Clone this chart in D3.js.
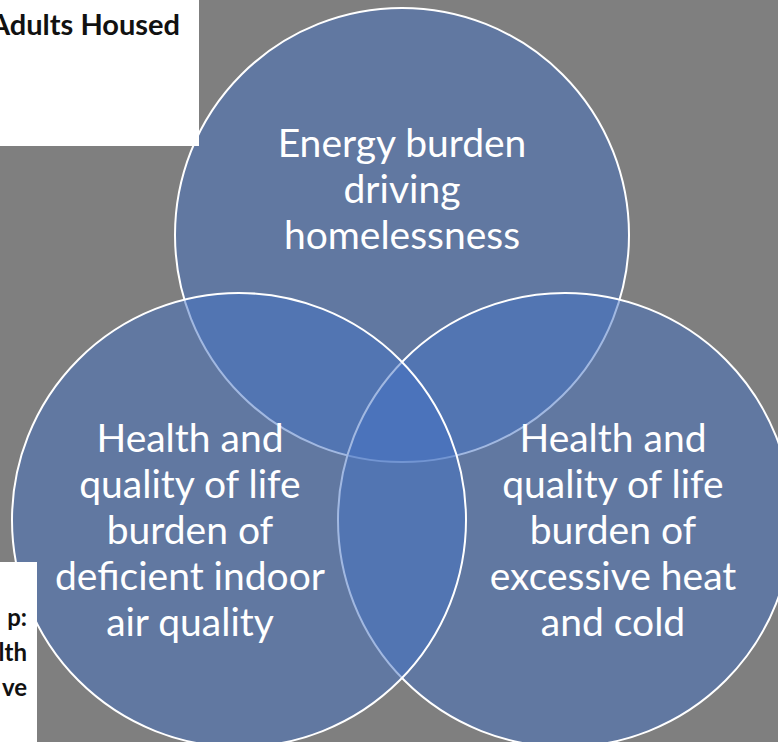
<!DOCTYPE html>
<html>
<head>
<meta charset="utf-8">
<script src="https://cdn.jsdelivr.net/npm/d3@7"></script>
<style>
  html, body { margin: 0; padding: 0; background: #7f7f7f; }
  #chart svg { display: block; }
</style>
</head>
<body>
<div id="chart"></div>
<script>
// sets drawn in this order (later ones sit on top)
var setNames = ['energy', 'heat', 'air'];
var setLabels = [
    ['Energy burden', 'driving', 'homelessness'],
    ['Health and', 'quality of life', 'burden of', 'excessive heat', 'and cold'],
    ['Health and', 'quality of life', 'burden of', 'deficient indoor', 'air quality']
];
var sideNoteTop = ['Adults Housed'];
var sideNoteBottom = ['p:', 'lth', 've'];

function VennApp() {

    this.init = function() {
        this._config = {
            width: 778,
            height: 742,
            radius: 227,
            fill: '#4472c4',
            fillOpacity: 0.5,
            lineHeight: 46
        };
        // circle centres in chart units
        this._centers = {
            energy: [402, 235],
            heat: [565, 520],
            air: [239, 520]
        };
        this._labelPos = {
            energy: [402, 157],
            heat: [613, 452],
            air: [190, 452]
        };
        this._initElements();
        this._drawCircles();
        this._drawNotes();
    };

    this._initElements = function() {
        this._rootNode = d3.select('#chart')
            .append('svg')
            .attr('width', this._config.width)
            .attr('height', this._config.height);

        this._rootNode.append('rect')
            .attr('width', this._config.width)
            .attr('height', this._config.height)
            .attr('fill', '#7f7f7f');

        this._x = d3.scaleLinear().domain([0, this._config.width]).range([0, this._config.width]);
        this._y = d3.scaleLinear().domain([0, this._config.height]).range([0, this._config.height]);
    };

    this._drawNotes = function() {
        var svg = this._rootNode;
        svg.append('rect').attr('x', 0).attr('y', 0).attr('width', 199).attr('height', 146).attr('fill', '#fff');
        svg.append('rect').attr('x', 0).attr('y', 562).attr('width', 37).attr('height', 180).attr('fill', '#fff');

        svg.selectAll('text.noteTop').data(sideNoteTop).enter().append('text')
            .attr('class', 'noteTop')
            .attr('x', 180).attr('y', 35)
            .attr('text-anchor', 'end')
            .attr('font-family', 'Lato, sans-serif')
            .attr('font-weight', 'bold')
            .attr('font-size', 29)
            .attr('fill', '#111')
            .text(function(d) { return d; });

        var bottomY = [626, 661, 696];
        svg.selectAll('text.noteBottom').data(sideNoteBottom).enter().append('text')
            .attr('class', 'noteBottom')
            .attr('x', 27)
            .attr('y', function(d, i) { return bottomY[i]; })
            .attr('text-anchor', 'end')
            .attr('font-family', 'Lato, sans-serif')
            .attr('font-weight', 'bold')
            .attr('font-size', 24)
            .attr('fill', '#111')
            .text(function(d) { return d; });
    };

    this._drawCircles = function() {
        var cfg = this._config, x = this._x, y = this._y, centers = this._centers;
        var data = setNames.map(function(name, i) {
            return { name: name, lines: setLabels[i] };
        });

        this._rootNode.selectAll('circle.set').data(data).enter().append('circle')
            .attr('class', 'set')
            .attr('cx', function(d) { return x(centers[d.name][0]); })
            .attr('cy', function(d) { return y(centers[d.name][1]); })
            .attr('r', cfg.radius)
            .attr('fill', cfg.fill)
            .attr('fill-opacity', cfg.fillOpacity)
            .attr('stroke', '#fff')
            .attr('stroke-width', 2);

        var labelPos = this._labelPos;
        var groups = this._rootNode.selectAll('g.label').data(data).enter().append('g')
            .attr('class', 'label');
        groups.selectAll('text').data(function(d) {
                return d.lines.map(function(l, j) { return { name: d.name, text: l, j: j }; });
            }).enter().append('text')
            .attr('x', function(d) { return x(labelPos[d.name][0]); })
            .attr('y', function(d) { return y(labelPos[d.name][1] + d.j * cfg.lineHeight); })
            .attr('text-anchor', 'middle')
            .attr('font-family', 'Lato, sans-serif')
            .attr('font-size', 39)
            .attr('fill', '#fff')
            .text(function(d) { return d.text; });
    };

    this.init();
}

function initApp() {
    if (typeof(window.vennApp) === 'undefined') {
        window.vennApp = new VennApp();
    }
}
document.addEventListener('DOMContentLoaded', initApp);
</script>
</body>
</html>
